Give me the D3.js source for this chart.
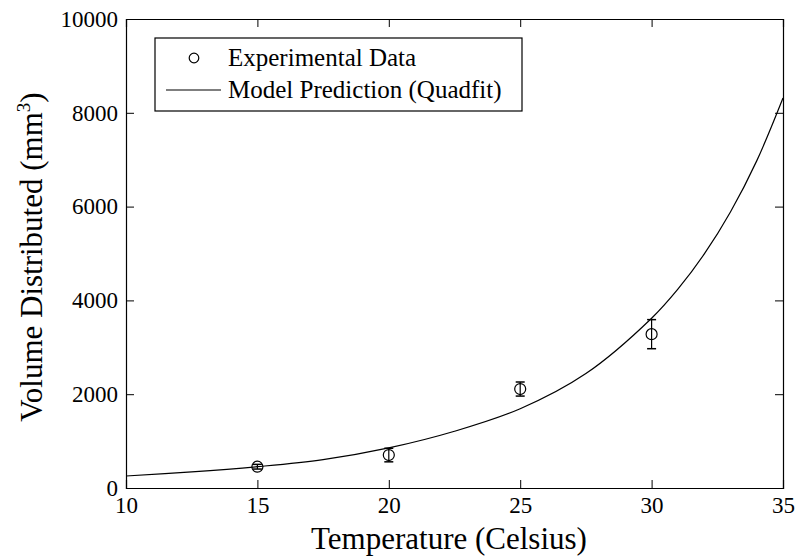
<!DOCTYPE html>
<html><head><meta charset="utf-8">
<script src="https://cdn.jsdelivr.net/npm/d3@7/dist/d3.min.js"></script>
<style>body{margin:0;background:#fff}text{font-family:"Liberation Serif","Times New Roman",serif;fill:#000}</style>
</head><body><svg id="c" width="796" height="556"></svg>
<script>
// Experimental data
const expTemp = [15, 20, 25, 30];
const expVolume = [454, 703, 2110, 3280];
const expError = [50, 145, 150, 310];
// Model prediction
const modelTemp = [10, 12.5, 15, 17.5, 20, 22.5, 25, 27.5, 30, 31, 32, 33, 34, 35];
const modelVolume = [256, 342, 454, 605, 855, 1210, 1690, 2440, 3620, 4240, 4985, 5885, 6975, 8315];
const xTicks = [10, 15, 20, 25, 30, 35];
const yTicks = [0, 2000, 4000, 6000, 8000, 10000];
const legendLabels = ["Experimental Data", "Model Prediction (Quadfit)"];

const svg = d3.select("#c");
const L = 126, R = 783, T = 19, B = 488;
const x = d3.scaleLinear().domain([10, 35]).range([L, R]);
const y = d3.scaleLinear().domain([0, 10000]).range([B, T]);
const tickLen = 8;

// axes
const ax = svg.append("g");
ax.append("g").attr("transform", `translate(0,${B})`)
  .call(d3.axisBottom(x).tickValues(xTicks).tickSize(-tickLen).tickPadding(9).tickFormat(d3.format("d")));
ax.append("g").attr("transform", `translate(0,${T})`)
  .call(d3.axisTop(x).tickValues(xTicks).tickSize(-tickLen).tickFormat(""));
ax.append("g").attr("transform", `translate(${L},0)`)
  .call(d3.axisLeft(y).tickValues(yTicks).tickSize(-tickLen).tickPadding(8).tickFormat(d3.format("d")));
ax.append("g").attr("transform", `translate(${R},0)`)
  .call(d3.axisRight(y).tickValues(yTicks).tickSize(-tickLen).tickFormat(""));
ax.selectAll("path.domain").attr("stroke", "#000").attr("stroke-width", 1.2);
ax.selectAll(".tick line").attr("stroke", "#000").attr("stroke-width", 1);
ax.selectAll(".tick text").attr("font-family", "Liberation Serif").attr("font-size", 23).attr("fill", "#000");

// model curve
const line = d3.line().x((d, i) => x(modelTemp[i])).y(d => y(d)).curve(d3.curveCatmullRom.alpha(0.5));
svg.append("path").attr("d", line(modelVolume)).attr("fill", "none").attr("stroke", "#000").attr("stroke-width", 1.2);

// error bars + markers
const pts = svg.append("g");
expTemp.forEach((t, i) => {
  const cx = x(t), lo = y(expVolume[i] - expError[i]), hi = y(expVolume[i] + expError[i]);
  pts.append("line").attr("x1", cx).attr("x2", cx).attr("y1", lo).attr("y2", hi).attr("stroke", "#000").attr("stroke-width", 1.2);
  [lo, hi].forEach(v => pts.append("line").attr("x1", cx - 4.5).attr("x2", cx + 4.5).attr("y1", v).attr("y2", v).attr("stroke", "#000").attr("stroke-width", 1.5));
  pts.append("circle").attr("cx", cx).attr("cy", y(expVolume[i])).attr("r", 5.5).attr("fill", "none").attr("stroke", "#000").attr("stroke-width", 1.2);
});

// legend
const lg = svg.append("g");
lg.append("rect").attr("x", 155).attr("y", 38).attr("width", 367).attr("height", 73).attr("fill", "#fff").attr("stroke", "#000").attr("stroke-width", 1.2);
lg.append("circle").attr("cx", 194).attr("cy", 58).attr("r", 4.8).attr("fill", "none").attr("stroke", "#000").attr("stroke-width", 1.2);
lg.append("line").attr("x1", 166).attr("x2", 221).attr("y1", 90).attr("y2", 90).attr("stroke", "#000").attr("stroke-width", 1.2);
lg.selectAll("text").data(legendLabels).join("text")
  .attr("x", 228).attr("y", (d, i) => 66 + i * 32).attr("font-size", 25).text(d => d);

// axis titles
svg.append("text").attr("x", 449).attr("y", 549).attr("text-anchor", "middle").attr("font-size", 31).text("Temperature (Celsius)");
const yt = svg.append("text").attr("transform", "translate(42,257) rotate(-90)").attr("text-anchor", "middle").attr("font-size", 31);
yt.append("tspan").text("Volume Distributed (mm");
yt.append("tspan").attr("font-size", 19).attr("dy", -12).text("3");
yt.append("tspan").attr("dy", 12).text(")");
</script></body></html>
